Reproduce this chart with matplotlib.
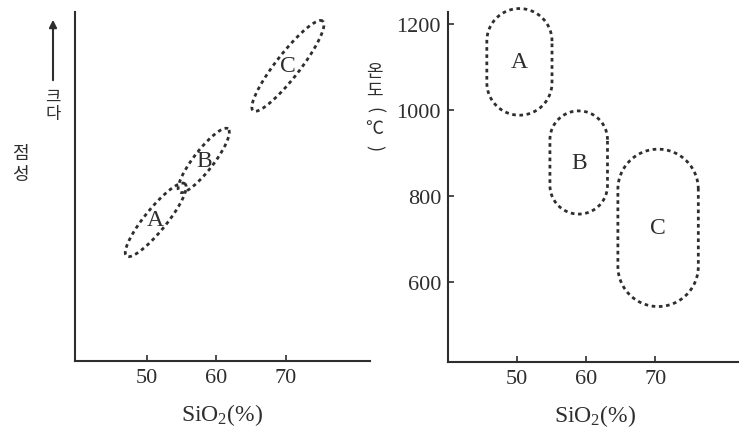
import numpy as np
import matplotlib
matplotlib.use("Agg")
import matplotlib.pyplot as plt

plt.rcParams["font.family"] = ["Liberation Serif", "DejaVu Serif"]
plt.rcParams["mathtext.fontset"] = "custom"
plt.rcParams["mathtext.rm"] = "Liberation Serif"
plt.rcParams["mathtext.it"] = "Liberation Serif:italic"

INK = "#2e2e2e"
KR = ["Noto Sans CJK KR", "DejaVu Sans"]

# shared x axis
sio2_ticks = [50, 60, 70]
groups = ["A", "B", "C"]

# left panel: viscosity (no scale) - ends of each elongated cloud
visc_sio2_lo = [47.1, 54.7, 65.3]
visc_sio2_hi = [55.5, 61.7, 75.3]
visc_lo = [15.1, 24.3, 36.0]
visc_hi = [25.5, 33.4, 48.9]
visc_spread = [22, 20, 24]   # cloud thickness, pixels

# right panel: eruption temperature ranges
temp_ticks = [600, 800, 1000, 1200]
temp_sio2_lo = [45.7, 54.8, 64.6]
temp_sio2_hi = [55.1, 63.1, 76.2]
temp_lo = [988, 758, 543]
temp_hi = [1236, 998, 909]

W, H = 739, 435
fig = plt.figure(figsize=(W / 100, H / 100), dpi=100)


def px_axes(x0, y0, x1, y1):
    '''axes from pixel box (top-left origin)'''
    return fig.add_axes([x0 / W, 1 - y1 / H, (x1 - x0) / W, (y1 - y0) / H])


def style(ax):
    for s in ["top", "right"]:
        ax.spines[s].set_visible(False)
    for s in ["left", "bottom"]:
        ax.spines[s].set_linewidth(1.5)
        ax.spines[s].set_color(INK)
    ax.tick_params(direction="in", length=4, width=1.2, colors=INK,
                   labelsize=16, pad=5)
    ax.set_xticks(sio2_ticks)
    ax.set_xlabel("SiO$_2$(%)", fontsize=17, color=INK, labelpad=10)


def draw_px(ax, pts):
    '''pixel outline -> data, then plot'''
    data = ax.transData.inverted().transform(pts)
    ax.plot(data[:, 0], data[:, 1], color=INK, lw=2.0,
            ls=(0, (1.3, 1.3)), clip_on=False)


def vtext(x, y0, step, chars, size):
    '''vertical label: one upright glyph per row, brackets turned'''
    for k, ch in enumerate(chars):
        rot = -90 if ch in "()" else 0
        fig.text(x / W, 1 - (y0 + k * step) / H, ch, fontsize=size,
                 color=INK, ha="center", va="center", rotation=rot,
                 family=KR)


# ---- left: viscosity
ax1 = px_axes(75, 13, 370, 362)
ax1.set_xlim(39.7, 82.1)
ax1.set_ylim(0, 50.2)
style(ax1)
ax1.set_yticks([])

t = np.linspace(0, 2 * np.pi, 200)
for i, g in enumerate(groups):
    p0 = ax1.transData.transform((visc_sio2_lo[i], visc_lo[i]))
    p1 = ax1.transData.transform((visc_sio2_hi[i], visc_hi[i]))
    c = (p0 + p1) / 2
    d = p1 - p0
    a = np.hypot(*d) / 2
    u = d / np.hypot(*d)
    v = np.array([-u[1], u[0]])
    b = visc_spread[i] / 2
    pts = c + np.outer(a * np.cos(t), u) + np.outer(b * np.sin(t), v)
    draw_px(ax1, pts)
    ax1.text((visc_sio2_lo[i] + visc_sio2_hi[i]) / 2,
             (visc_lo[i] + visc_hi[i]) / 2, g, fontsize=17, color=INK,
             ha="center", va="center")

vtext(20, 154, 21, "점성", 13)
vtext(53, 97, 17, "크다", 12)
fig.add_artist(matplotlib.patches.FancyArrowPatch(
    (53 / W, 1 - 84 / H), (53 / W, 1 - 18 / H), transform=fig.transFigure,
    arrowstyle="-|>", mutation_scale=11, lw=1.5, color=INK))

# ---- right: temperature
ax2 = px_axes(448, 13, 742, 363)
ax2.set_xlim(40.1, 82.5)
ax2.set_ylim(414, 1228)
style(ax2)
ax2.set_yticks(temp_ticks)

for i, g in enumerate(groups):
    x0, y0 = ax2.transData.transform((temp_sio2_lo[i], temp_lo[i]))
    x1, y1 = ax2.transData.transform((temp_sio2_hi[i], temp_hi[i]))
    r = (x1 - x0) / 2
    cx = (x0 + x1) / 2
    top = np.linspace(0, np.pi, 60)
    bot = np.linspace(np.pi, 2 * np.pi, 60)
    upper = np.column_stack([cx + r * np.cos(top), y1 - r + r * np.sin(top)])
    lower = np.column_stack([cx + r * np.cos(bot), y0 + r + r * np.sin(bot)])
    pts = np.vstack([upper, lower, upper[:1]])
    draw_px(ax2, pts)
    ax2.text((temp_sio2_lo[i] + temp_sio2_hi[i]) / 2,
             (temp_lo[i] + temp_hi[i]) / 2, g, fontsize=17, color=INK,
             ha="center", va="center")

vtext(374, 72, 19, ["온", "도", "(", "℃", ")"], 13)

fig.savefig("out.png", dpi=100)
